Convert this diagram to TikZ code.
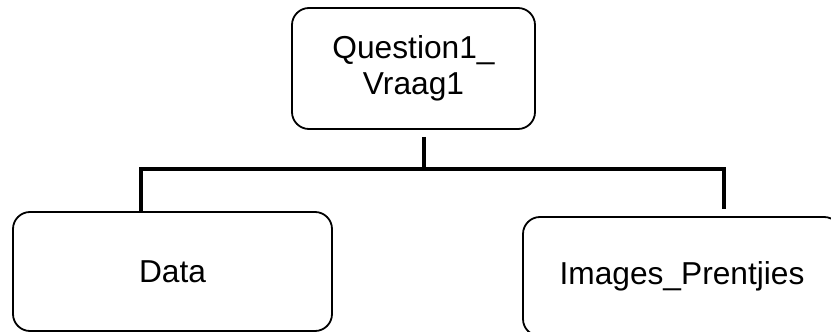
\documentclass[tikz,border=0pt]{standalone}
\usepackage{fontspec}
\setmainfont{Liberation Sans}
\begin{document}
\begin{tikzpicture}[x=1pt,y=1pt,
  box/.style={draw=black, line width=1.8pt, rounded corners=17pt, inner sep=0pt,
    align=center, font=\fontsize{31.7}{36.5}\selectfont},
  conn/.style={draw=black, line width=3.5pt, line join=miter}]
\clip (0,0) rectangle (831,-332);
\fill[white] (0,0) rectangle (831,-332);
\node[box, minimum width=243pt, minimum height=121pt] (top) at (413.5,-68.5) {Question1\_\\Vraag1};
\node[box, minimum width=319pt, minimum height=119pt] (left) at (172.5,-271.5) {Data};
\node[box, minimum width=318pt, minimum height=119pt] (right) at (682,-276.5) {Images\_Prentjies};
\draw[conn] ([xshift=10.5pt,yshift=-7pt]top.south) -- ++(0,-34pt);
\draw[conn] ([xshift=-31.5pt]left.north) -- ++(0,42pt) -| ([xshift=42pt,yshift=7pt]right.north);
\end{tikzpicture}
\end{document}
